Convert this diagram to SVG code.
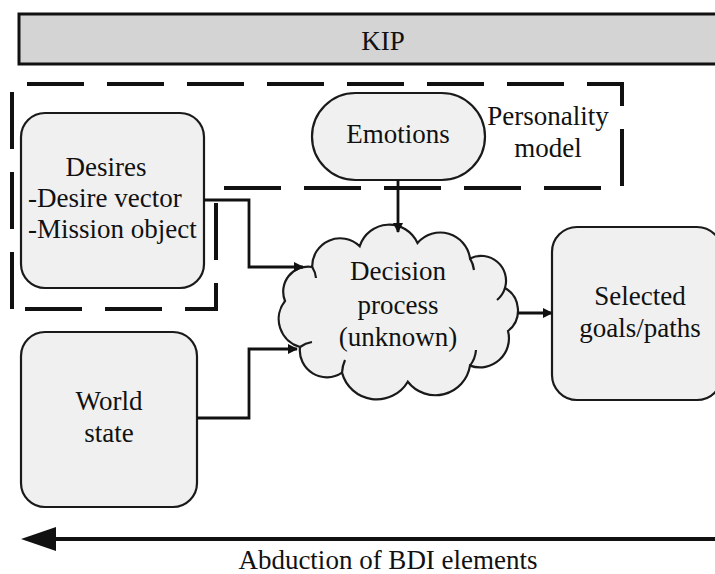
<svg xmlns="http://www.w3.org/2000/svg" width="715" height="574" viewBox="0 0 715 574">
<style>
  .node { fill: #f0f0f0; stroke: #1a1a1a; stroke-width: 2.2; }
  text { font-family: 'Liberation Serif', 'DejaVu Serif', serif; font-size: 27px; fill: #111; }
  .c { text-anchor: middle; }
  .conn { fill: none; stroke: #111; stroke-width: 2.8; }
  .dash { fill: none; stroke: #111; stroke-width: 4; stroke-dasharray: 57 23; }
  .inner { fill: none; stroke: #1a1a1a; stroke-width: 2.2; }
</style>
<defs>
  <marker id="ah" markerWidth="10" markerHeight="10" refX="9" refY="5" orient="auto" markerUnits="userSpaceOnUse" viewBox="0 0 10 10">
    <path d="M0,0 L10,5 L0,10 Z" fill="#111"/>
  </marker>
</defs>
<rect width="715" height="574" fill="#fff"/>

<g id="kip">
  <rect x="19" y="14" width="710" height="50" fill="#d4d4d4" stroke="#111" stroke-width="3"/>
  <text class="c" x="383" y="50" font-family="Liberation Serif, serif">KIP</text>
</g>

<g id="personality-model">
  <path class="dash" d="M12,309 L12,84 L622,84 L622,188 L216,188 L216,309 Z"/>
  <text class="c" x="548" y="125">Personality</text>
  <text class="c" x="548" y="157">model</text>
</g>

<g id="desires">
  <rect class="node" x="21" y="113" width="183" height="175" rx="24"/>
  <text class="c" x="106" y="176">Desires</text>
  <text x="28" y="207">-Desire vector</text>
  <text x="28" y="238">-Mission object</text>
</g>

<g id="emotions">
  <rect class="node" x="312" y="93" width="173" height="87" rx="43.5"/>
  <text class="c" x="398" y="143">Emotions</text>
</g>

<g id="decision">
  <path class="node" d="M285,301 A25,25 0 0 1 312.2,267 A28,28 0 0 1 359.7,246.2 A31,31 0 0 1 417.5,243 A30,30 0 0 1 470,258.4 A25,25 0 0 1 505,288 A26,26 0 0 1 508,331 A29,29 0 0 1 470,365.6 A35,35 0 0 1 407.8,381.7 A36,36 0 0 1 342,372.6 A27,27 0 0 1 300,347 A29,29 0 0 1 285,301 Z"/>
  <path class="inner" d="M312.2,267 A25,25 0 0 1 316,278"/>
  <path class="inner" d="M470,258.4 A30,30 0 0 1 474,270"/>
  <path class="inner" d="M505,288 A25,25 0 0 1 497,300"/>
  <path class="inner" d="M470,365.6 A29,29 0 0 0 476,350"/>
  <path class="inner" d="M342,372.6 A36,36 0 0 1 345,360"/>
  <path class="inner" d="M300,347 A27,27 0 0 1 312,342"/>
  <text class="c" x="398" y="280">Decision</text>
  <text class="c" x="398" y="314">process</text>
  <text class="c" x="398" y="346">(unknown)</text>
</g>

<g id="world">
  <rect class="node" x="21" y="332" width="176" height="175" rx="24"/>
  <text class="c" x="109" y="410">World</text>
  <text class="c" x="109" y="442">state</text>
</g>

<g id="selected">
  <rect class="node" x="552" y="227" width="170" height="173" rx="25"/>
  <text class="c" x="640" y="305">Selected</text>
  <text class="c" x="640" y="337">goals/paths</text>
</g>

<g id="connectors">
  <path class="conn" d="M204,200 L249,200 L249,267 L303,267" marker-end="url(#ah)"/>
  <path class="conn" d="M197,418 L249,418 L249,349 L297,349" marker-end="url(#ah)"/>
  <path class="conn" d="M398,180 L398,232" marker-end="url(#ah)"/>
  <path class="conn" d="M518,313 L552,313" marker-end="url(#ah)"/>
  <line x1="50" y1="539" x2="715" y2="539" stroke="#111" stroke-width="4"/>
  <path d="M21,539 L56,527 L56,551 Z" fill="#111"/>
</g>

<g id="abduction-label">
  <text class="c" x="388" y="569">Abduction of BDI elements</text>
</g>
</svg>
